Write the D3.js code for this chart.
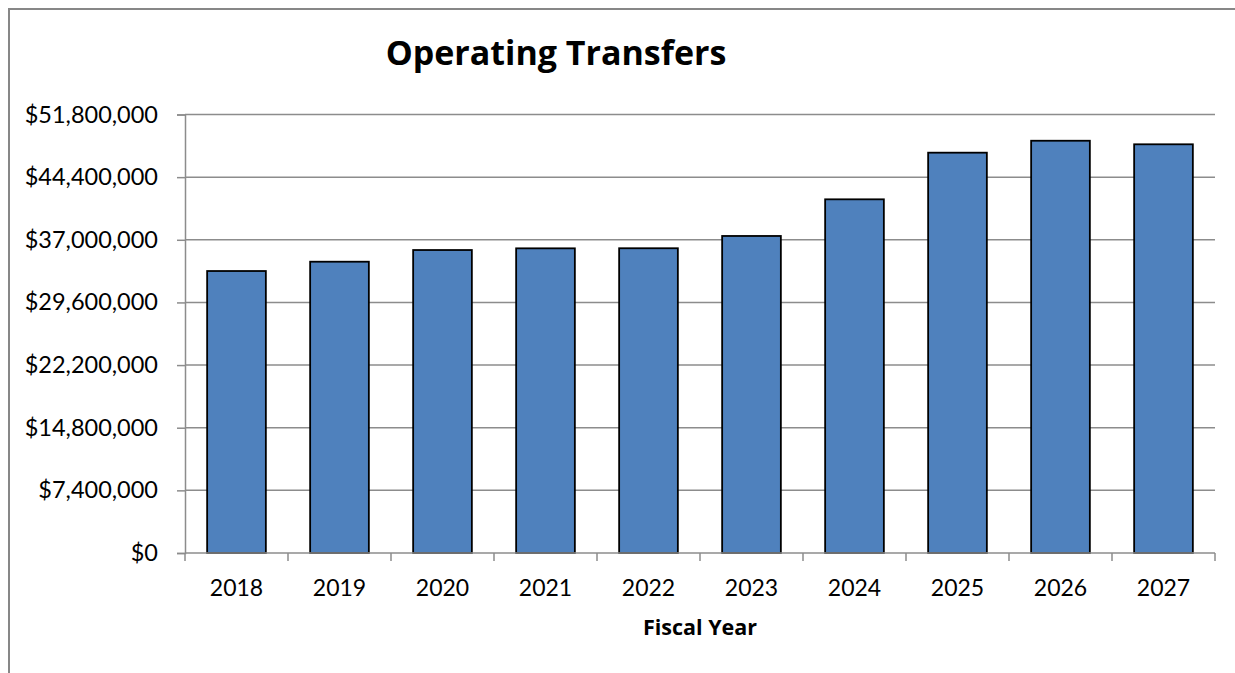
<!DOCTYPE html>
<html>
<head>
<meta charset="utf-8">
<script src="https://cdn.jsdelivr.net/npm/d3@7"></script>
<style>
  body { margin: 0; background: #fff; }
  text { font-family: Lato, "Open Sans", sans-serif; fill: #000; }
  .bold { font-family: "Open Sans", Lato, sans-serif; font-weight: bold; }
</style>
</head>
<body>
<div id="chart"></div>
<script>
var years = ['2018', '2019', '2020', '2021', '2022', '2023', '2024', '2025', '2026', '2027'],
    transfers = [33310000, 34410000, 35790000, 35990000, 36000000, 37450000, 41780000, 47290000, 48700000, 48280000],
    yTicks = [0, 7400000, 14800000, 22200000, 29600000, 37000000, 44400000, 51800000];

var width = 1235,
    height = 673,
    margin = {left: 185, right: 20, top: 114.5, bottom: 120};

var svg = d3.select('#chart').append('svg')
    .attr('width', width)
    .attr('height', height);

// outer frame (top and left edges only show)
svg.append('path')
    .attr('d', 'M9 ' + height + 'V9H' + width)
    .attr('fill', 'none')
    .attr('stroke', '#878787')
    .attr('stroke-width', 2);

var x = d3.scaleBand()
    .domain(years)
    .range([margin.left, width - margin.right])
    .paddingInner(0.43)
    .paddingOuter(0.215);

var y = d3.scaleLinear()
    .domain([0, 51800000])
    .range([height - margin.bottom, margin.top]);

var money = function(d) { return '$' + d3.format(',')(d); };

// gridlines + y axis
var yAxis = svg.append('g')
    .attr('transform', 'translate(' + margin.left + ',0)')
    .call(d3.axisLeft(y)
        .tickValues(yTicks)
        .tickSize(8)
        .tickPadding(19)
        .tickFormat(money));

yAxis.select('.domain').attr('stroke', '#8c8c8c').attr('stroke-width', 1.5);
yAxis.selectAll('.tick line').attr('stroke', '#8c8c8c').attr('stroke-width', 1.5);
yAxis.selectAll('.tick text').style('font-size', '23.5px');

svg.append('g')
    .selectAll('line')
    .data(yTicks.slice(1))
    .enter()
    .append('line')
    .attr('x1', margin.left)
    .attr('x2', width - margin.right)
    .attr('y1', function(d) { return y(d); })
    .attr('y2', function(d) { return y(d); })
    .attr('stroke', '#8c8c8c')
    .attr('stroke-width', 1.5);

// bars
svg.append('g')
    .selectAll('rect')
    .data(transfers)
    .enter()
    .append('rect')
    .attr('x', function(d, i) { return x(years[i]); })
    .attr('width', x.bandwidth())
    .attr('y', function(d) { return y(d); })
    .attr('height', function(d) { return y(0) - y(d); })
    .attr('fill', '#4f81bd')
    .attr('stroke', '#000')
    .attr('stroke-width', 1.8);

// x axis with ticks between categories
var xAxis = svg.append('g')
    .attr('transform', 'translate(0,' + y(0) + ')');

xAxis.append('line')
    .attr('x1', margin.left)
    .attr('x2', width - margin.right)
    .attr('stroke', '#8c8c8c')
    .attr('stroke-width', 1.5);

var sepX = function(i) { return margin.left + i * x.step(); };
xAxis.selectAll('.sep')
    .data(d3.range(years.length + 1))
    .enter()
    .append('line')
    .attr('class', 'sep')
    .attr('x1', sepX)
    .attr('x2', sepX)
    .attr('y1', 0)
    .attr('y2', 8)
    .attr('stroke', '#8c8c8c')
    .attr('stroke-width', 1.5);

xAxis.selectAll('.lbl')
    .data(years)
    .enter()
    .append('text')
    .attr('class', 'lbl')
    .attr('x', function(d) { return x(d) + x.bandwidth() / 2; })
    .attr('y', 43)
    .attr('text-anchor', 'middle')
    .style('font-size', '23px')
    .text(function(d) { return d; });

svg.append('text')
    .attr('class', 'bold')
    .attr('x', (margin.left + width - margin.right) / 2)
    .attr('y', 635)
    .attr('text-anchor', 'middle')
    .style('font-size', '21.5px')
    .text('Fiscal Year');

svg.append('text')
    .attr('class', 'bold')
    .attr('x', 556)
    .attr('y', 65)
    .attr('text-anchor', 'middle')
    .style('font-size', '34px')
    .text('Operating Transfers');
</script>
</body>
</html>
